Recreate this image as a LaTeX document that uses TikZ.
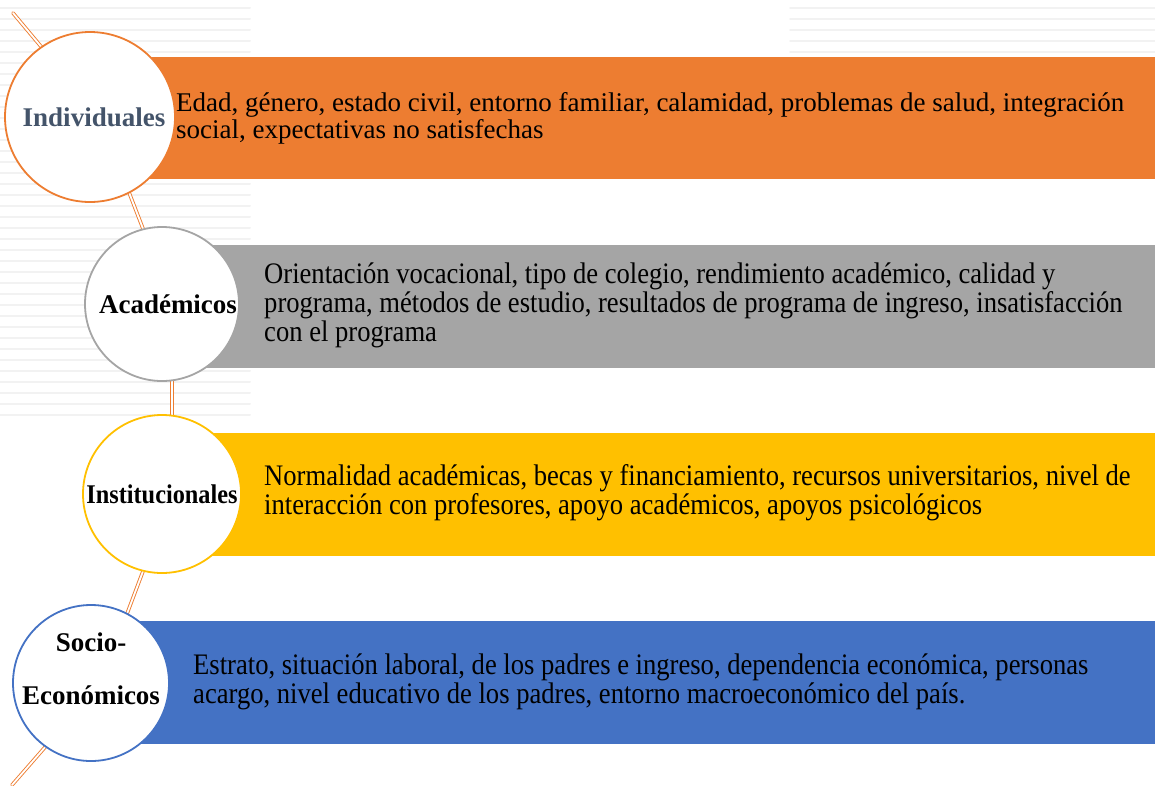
\documentclass[tikz,border=0pt]{standalone}
\usepackage{fontspec}
\setmainfont{Liberation Serif}
\definecolor{naranja}{HTML}{ED7D31}
\definecolor{gris}{HTML}{A5A5A5}
\definecolor{oro}{HTML}{FFC000}
\definecolor{azul}{HTML}{4472C4}
\definecolor{pizarra}{HTML}{44546A}
\definecolor{marca}{HTML}{F2F2F2}
% text of the lower bars, drawn a little taller than wide
\newcommand{\alto}[1]{\scalebox{1}[1.12]{\begin{tabular}{@{}l@{}}#1\end{tabular}}}
\tikzset{
  barra/.style={fill=#1, draw=none},
  aro/.style={circle, draw=#1, line width=1.8pt, fill=white, inner sep=0pt},
  rotulo/.style={align=center, inner sep=0pt, font=\bfseries\fontsize{27}{27}\selectfont},
  texto/.style={anchor=west, align=left, inner sep=0pt,
    font=\fontsize{27}{27}\selectfont},
  textob/.style={anchor=west, inner sep=0pt,
    font=\fontsize{26.6}{24.5}\selectfont},
  via/.style={draw=naranja, double=white, line width=0.9pt, double distance=1.8pt}
}
\begin{document}
\begin{tikzpicture}[x=1pt, y=-1pt, line join=round, line cap=round]
\useasboundingbox (0,0) rectangle (1155,785);
% faint stripes of the background
\foreach \y in {8,19,...,420}{
\draw[marca, line width=2pt] (0,\y)--(250,\y);}
\foreach \y in {8,19,...,52}{
\draw[marca, line width=2pt] (790,\y)--(1155,\y);}
% bars
\fill[barra=naranja] (90,57) rectangle (1155,179);
\fill[barra=gris] (162,245) rectangle (1155,368);
\fill[barra=oro] (162,433) rectangle (1155,556);
\fill[barra=azul] (91,621) rectangle (1155,744);
% line through the circles
\path (13,13) coordinate (ini) (12,785) coordinate (fin)
(90,117) coordinate (pind) (162,304) coordinate (paca)
(162,494) coordinate (pins) (91,683) coordinate (psoc);
\draw[via] (ini)--([xshift=10pt]pind)--([xshift=10pt]paca)
  --([xshift=10pt]pins)--([xshift=10pt]psoc)--(fin);
% circles
\node[aro=naranja, minimum size=170pt] (ind) at (pind) {};
\node[aro=gris, minimum size=154pt] (aca) at (paca) {};
\node[aro=oro, minimum size=158pt] (ins) at (pins) {};
\node[aro=azul, minimum size=156pt] (soc) at (psoc) {};
% labels
\node[rotulo, text=pizarra] (lind) at ([xshift=4pt]ind.center) {Individuales};
\node[rotulo] (laca) at ([xshift=6pt]aca.center) {Académicos};
\node[rotulo] (lins) at (ins) {\scalebox{0.9}[1]{Institucionales}};
\node[rotulo] (lsoc) at ([yshift=14pt]soc.center) {Socio-\\[26pt]Económicos};
% descriptions
\node[texto] (t1) at (176,118) {Edad, género, estado civil, entorno familiar, calamidad, problemas de salud, integración\\social, expectativas no satisfechas};
\node[textob] (t2) at (264,306) {\alto{Orientación vocacional, tipo de colegio, rendimiento académico, calidad y\\programa, métodos de estudio, resultados de programa de ingreso, insatisfacción\\con el programa}};
\node[textob] (t3) at (264,494) {\alto{Normalidad académicas, becas y financiamiento, recursos universitarios, nivel de\\interacción con profesores, apoyo académicos, apoyos psicológicos}};
\node[textob] (t4) at (193,683) {\alto{Estrato, situación laboral, de los padres e ingreso, dependencia económica, personas\\acargo, nivel educativo de los padres, entorno macroeconómico del país.}};
\end{tikzpicture}
\end{document}
